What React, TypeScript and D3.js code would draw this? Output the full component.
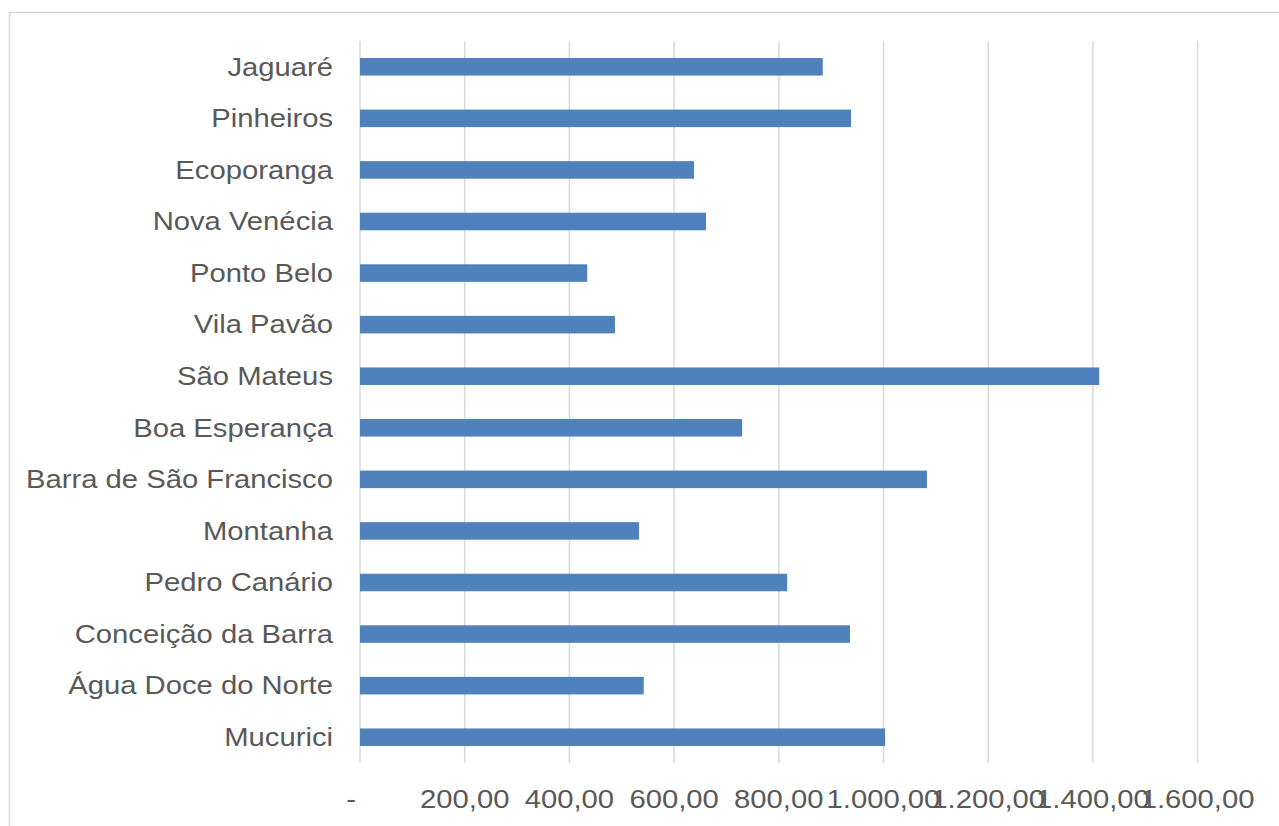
import React from "react";
import * as d3 from "d3";

const categories = [
  "Jaguaré",
  "Pinheiros",
  "Ecoporanga",
  "Nova Venécia",
  "Ponto Belo",
  "Vila Pavão",
  "São Mateus",
  "Boa Esperança",
  "Barra de São Francisco",
  "Montanha",
  "Pedro Canário",
  "Conceição da Barra",
  "Água Doce do Norte",
  "Mucurici",
];
const values = [884, 938, 638, 661, 434, 487, 1412, 730, 1083, 533, 816, 936, 542, 1003];
const ticks = [0, 200, 400, 600, 800, 1000, 1200, 1400, 1600];

const W = 1279;
const H = 826;
const left = 360;
const right = 1197.6;
const top = 41;
const bottom = 763;
const SX = 1.17;

function fmt(v: number): string {
  if (v === 0) return "-";
  const s = v.toFixed(2).replace(".", ",");
  const [i, d] = s.split(",");
  return i.replace(/\B(?=(\d{3})+(?!\d))/g, ".") + "," + d;
}

export default function App() {
  const x = d3.scaleLinear().domain([0, 1600]).range([left, right]);
  const y = d3.scaleBand<string>().domain(categories).range([top, bottom]).paddingInner(0.66).paddingOuter(0.33);
  const font = "'Liberation Sans', Arial, sans-serif";
  return (
    <svg width={W} height={H} style={{ position: "absolute", left: 0, top: 0, background: "#fff" }}>
      <rect x={9.5} y={12.5} width={1400} height={1000} fill="#fff" stroke="#d9d9d9" strokeWidth={1.5} />
      {ticks.map((t) => (
        <line key={t} x1={x(t)} x2={x(t)} y1={top} y2={bottom} stroke="#d9d9d9" strokeWidth={1.5} />
      ))}
      {categories.map((c, i) => (
        <rect key={c} x={x(0)} y={y(c)!} width={x(values[i]) - x(0)} height={y.bandwidth()} fill="#4F81BD" />
      ))}
      {categories.map((c) => (
        <text
          key={c}
          transform={`translate(333,${y(c)! + y.bandwidth() / 2}) scale(${SX},1)`}
          dy="0.35em"
          textAnchor="end"
          fontFamily={font}
          fontSize={25}
          fill="#595959"
        >
          {c}
        </text>
      ))}
      {ticks.map((t) => (
        <text
          key={t}
          transform={`translate(${t === 0 ? x(t) - 9 : x(t)},808) scale(${SX},1)`}
          textAnchor="middle"
          fontFamily={font}
          fontSize={25}
          fill="#595959"
        >
          {fmt(t)}
        </text>
      ))}
    </svg>
  );
}
